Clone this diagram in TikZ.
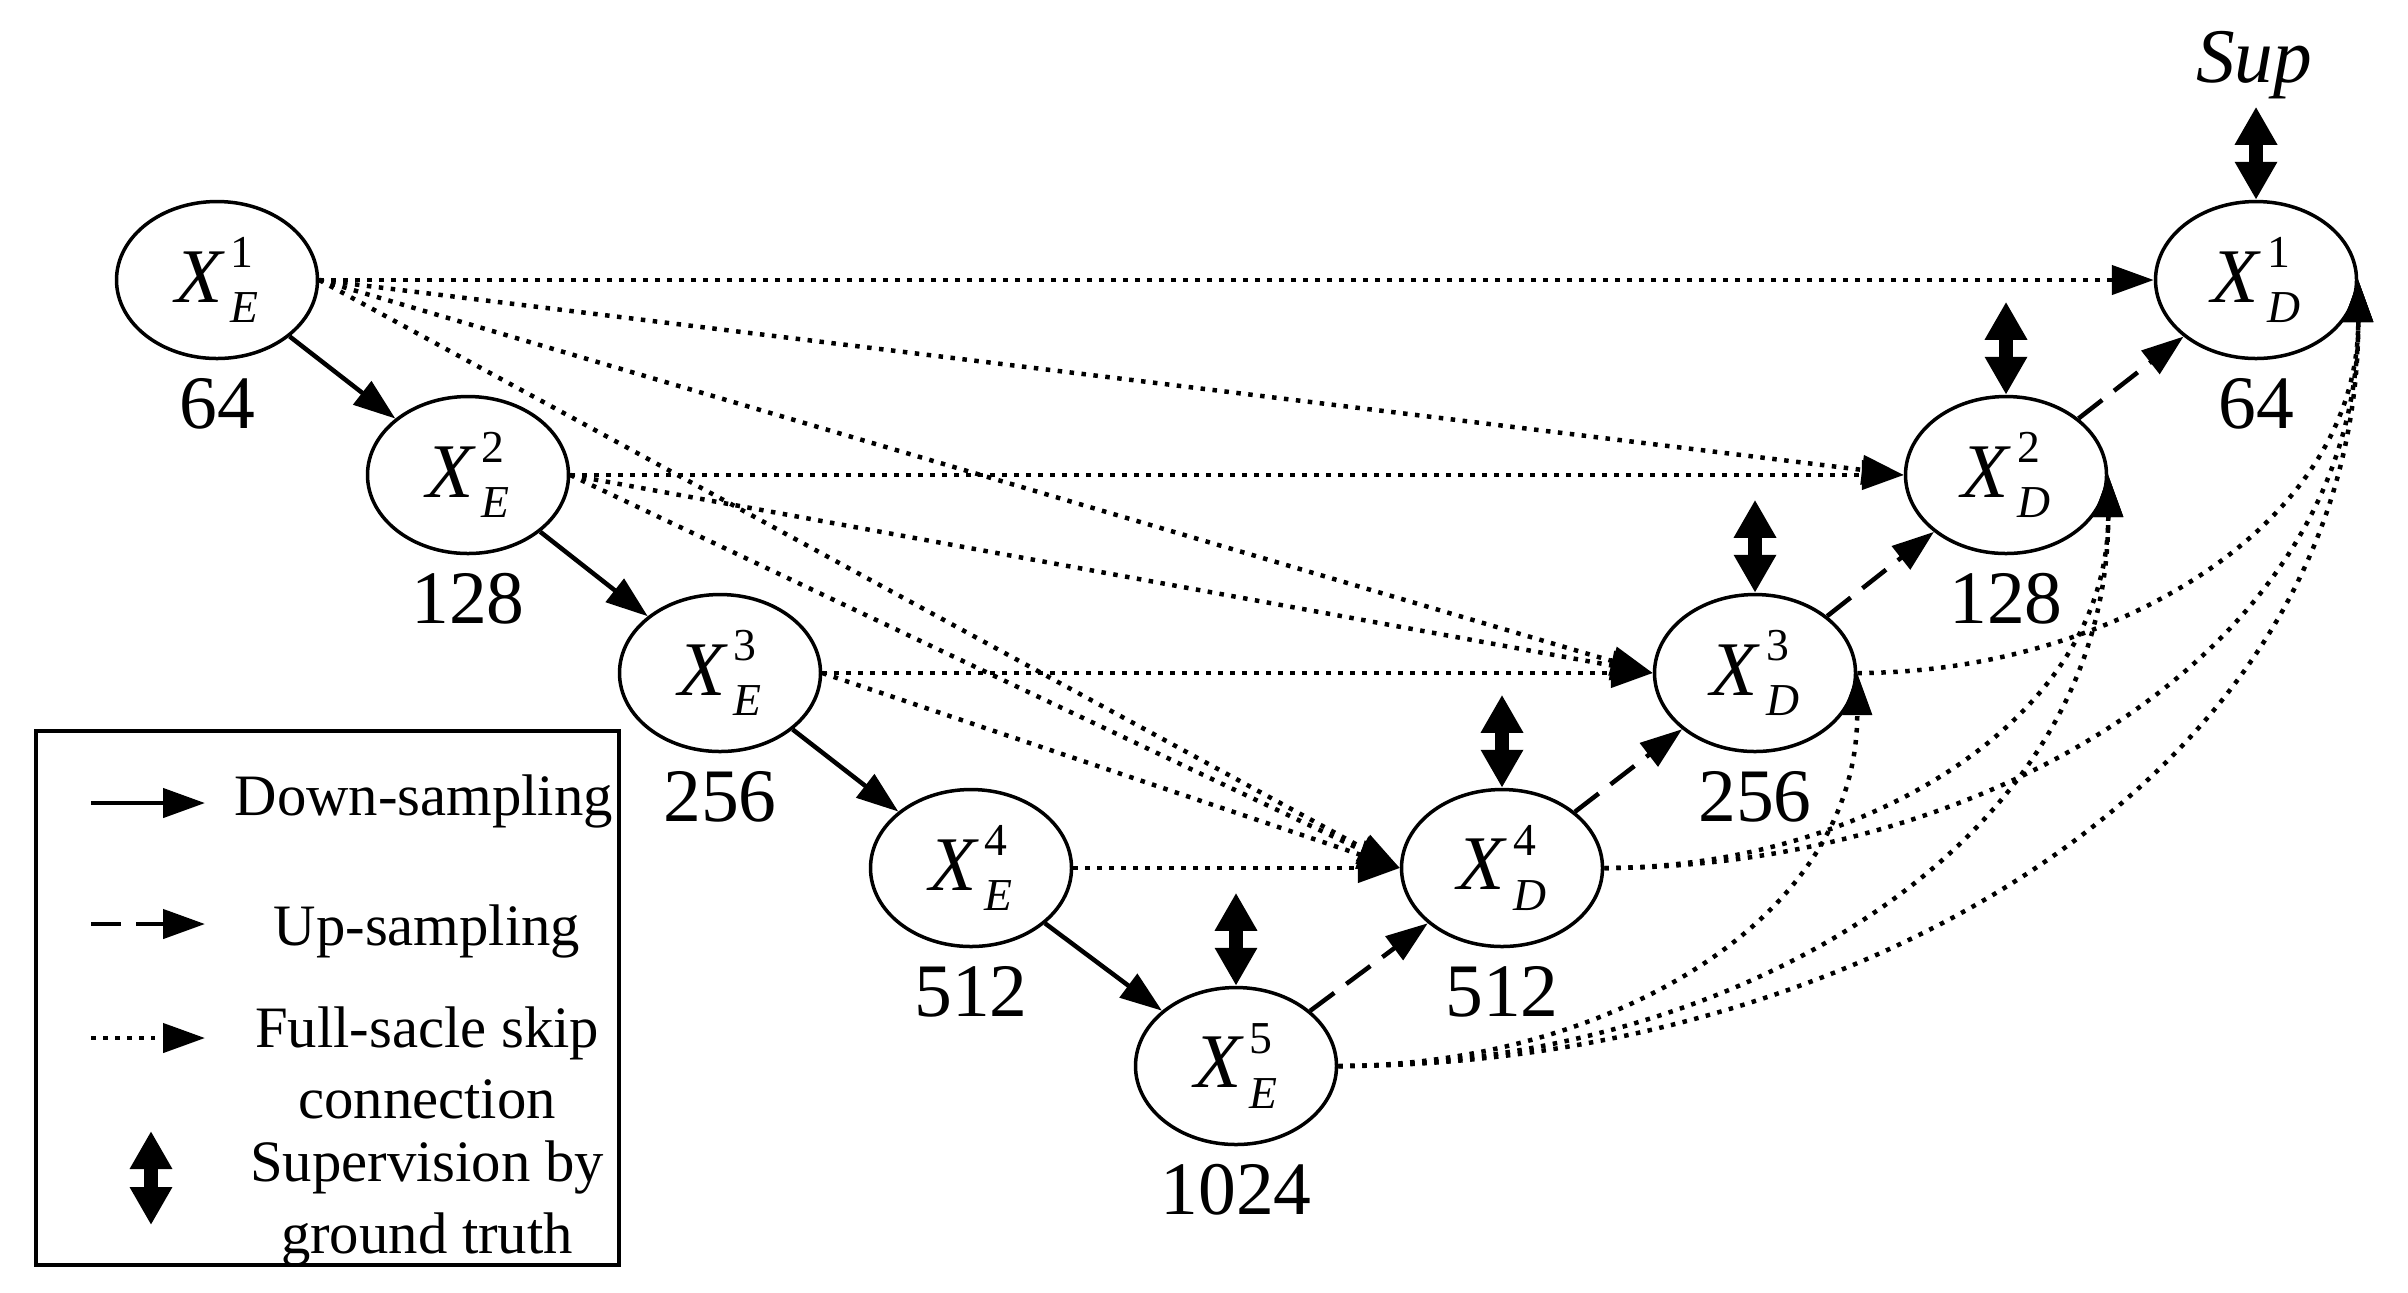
\documentclass[tikz,border=0pt]{standalone}
\usepackage{fontspec}
\setmainfont{Liberation Serif}
\usetikzlibrary{shapes.geometric,arrows.meta,calc}
\newcommand{\Xlab}[2]{\textit{X}\kern0.07em\makebox[0pt][l]{\raisebox{0.45em}{\fontsize{13}{13}\selectfont #1}}\raisebox{-0.27em}{\fontsize{13}{13}\selectfont\itshape #2}}
\begin{document}
\begin{tikzpicture}[
  nd/.style={ellipse, draw, line width=0.035cm, minimum width=2.01cm, minimum height=1.57cm, inner sep=0pt, font=\fontsize{22}{26}\selectfont},
  lab/.style={inner sep=0pt, font=\fontsize{21.5}{26}\selectfont},
  legtext/.style={inner sep=0pt, font=\fontsize{16.7}{20}\selectfont},
  tipa/.style={-{Triangle[length=0.42cm,width=0.29cm]}},
  dsamp/.style={line width=0.045cm, tipa},
  usamp/.style={line width=0.045cm, dash pattern=on 0.3cm off 0.15cm, tipa},
  skipc/.style={line width=0.045cm, dash pattern=on 0.045cm off 0.075cm, tipa},
  supv/.style={line width=0.14cm, {Triangle[length=0.38cm,width=0.40cm]}-{Triangle[length=0.38cm,width=0.40cm]}},
]
\useasboundingbox (0,0) rectangle (24.08,-12.92);

% nodes
\node[nd] (XE1) at (2.17,-2.80) {\Xlab{1}{E}};
\node[nd] (XE2) at (4.68,-4.75) {\Xlab{2}{E}};
\node[nd] (XE3) at (7.20,-6.73) {\Xlab{3}{E}};
\node[nd] (XE4) at (9.71,-8.68) {\Xlab{4}{E}};
\node[nd] (XE5) at (12.36,-10.66) {\Xlab{5}{E}};
\node[nd] (XD4) at (15.02,-8.68) {\Xlab{4}{D}};
\node[nd] (XD3) at (17.55,-6.73) {\Xlab{3}{D}};
\node[nd] (XD2) at (20.06,-4.75) {\Xlab{2}{D}};
\node[nd] (XD1) at (22.56,-2.80) {\Xlab{1}{D}};

% channel labels
\node[lab] (lE1) at ([yshift=-1.24cm]XE1.center) {64};
\node[lab] (lE2) at ([yshift=-1.24cm]XE2.center) {128};
\node[lab] (lE3) at ([yshift=-1.24cm]XE3.center) {256};
\node[lab] (lE4) at ([yshift=-1.24cm]XE4.center) {512};
\node[lab] (lE5) at ([yshift=-1.24cm]XE5.center) {1024};
\node[lab] (lD4) at ([yshift=-1.24cm]XD4.center) {512};
\node[lab] (lD3) at ([yshift=-1.24cm]XD3.center) {256};
\node[lab] (lD2) at ([yshift=-1.24cm]XD2.center) {128};
\node[lab] (lD1) at ([yshift=-1.24cm]XD1.center) {64};

\node[inner sep=0pt, anchor=base, font=\fontsize{22}{26}\selectfont] (sup) at (22.54,-0.82) {\textit{Sup}};

% down-sampling
\draw[dsamp] (XE1) -- (XE2);
\draw[dsamp] (XE2) -- (XE3);
\draw[dsamp] (XE3) -- (XE4);
\draw[dsamp] (XE4) -- (XE5);

% up-sampling
\draw[usamp] (XE5) -- (XD4);
\draw[usamp] (XD4) -- (XD3);
\draw[usamp] (XD3) -- (XD2);
\draw[usamp] (XD2) -- (XD1);

% straight skip connections
\draw[skipc] (XE1.east) -- (XD1.west);
\draw[skipc] (XE1.east) -- (XD2.west);
\draw[skipc] (XE1.east) -- (XD3.west);
\draw[skipc] (XE1.east) -- (XD4.west);
\draw[skipc] (XE2.east) -- (XD2.west);
\draw[skipc] (XE2.east) -- (XD3.west);
\draw[skipc] (XE2.east) -- (XD4.west);
\draw[skipc] (XE3.east) -- (XD3.west);
\draw[skipc] (XE3.east) -- (XD4.west);
\draw[skipc] (XE4.east) -- (XD4.west);

% curved skip connections
\draw[skipc] (XE5.east) to[out=0,in=-90] (XD3.east);
\draw[skipc] (XE5.east) to[out=0,in=-90] (XD2.east);
\draw[skipc] (XE5.east) to[out=0,in=-90] (XD1.east);
\draw[skipc] (XD4.east) to[out=0,in=-90] (XD2.east);
\draw[skipc] (XD4.east) to[out=0,in=-90] (XD1.east);
\draw[skipc] (XD3.east) to[out=0,in=-90] (XD1.east);

% supervision
\coordinate (s1) at ([yshift=0.93cm]XD1.north);
\coordinate (s2) at ([yshift=0.93cm]XD2.north);
\coordinate (s3) at ([yshift=0.93cm]XD3.north);
\coordinate (s4) at ([yshift=0.93cm]XD4.north);
\coordinate (s5) at ([yshift=0.93cm]XE5.north);
\draw[supv] (s1) -- (XD1.north);
\draw[supv] (s2) -- (XD2.north);
\draw[supv] (s3) -- (XD3.north);
\draw[supv] (s4) -- (XD4.north);
\draw[supv] (s5) -- (XE5.north);

% legend
\node[draw, line width=0.035cm, minimum width=5.83cm, minimum height=5.34cm, anchor=north west, inner sep=0pt] (legend) at (0.34,-7.29) {};
\coordinate (ld1) at (0.91,-8.03); \coordinate (ld2) at (2.05,-8.03);
\coordinate (lu1) at (0.91,-9.24); \coordinate (lu2) at (2.05,-9.24);
\coordinate (lf1) at (0.91,-10.38); \coordinate (lf2) at (2.05,-10.38);
\coordinate (ls1) at (1.51,-11.31); \coordinate (ls2) at (1.51,-12.25);
\draw[dsamp] (ld1) -- (ld2);
\draw[usamp] (lu1) -- (lu2);
\draw[skipc] (lf1) -- (lf2);
\draw[supv] (ls1) -- (ls2);
\node[legtext, anchor=base west] (tDown) at (2.34,-8.15) {Down-sampling};
\node[legtext, anchor=base] (tUp) at (4.27,-9.45) {Up-sampling};
\node[legtext, anchor=base] (tFull) at (4.27,-10.47) {Full-sacle skip};
\node[legtext, anchor=base] (tConn) at (4.27,-11.18) {connection};
\node[legtext, anchor=base] (tSupv) at (4.27,-11.81) {Supervision by};
\node[legtext, anchor=base] (tGT) at (4.27,-12.53) {ground truth};
\end{tikzpicture}
\end{document}
